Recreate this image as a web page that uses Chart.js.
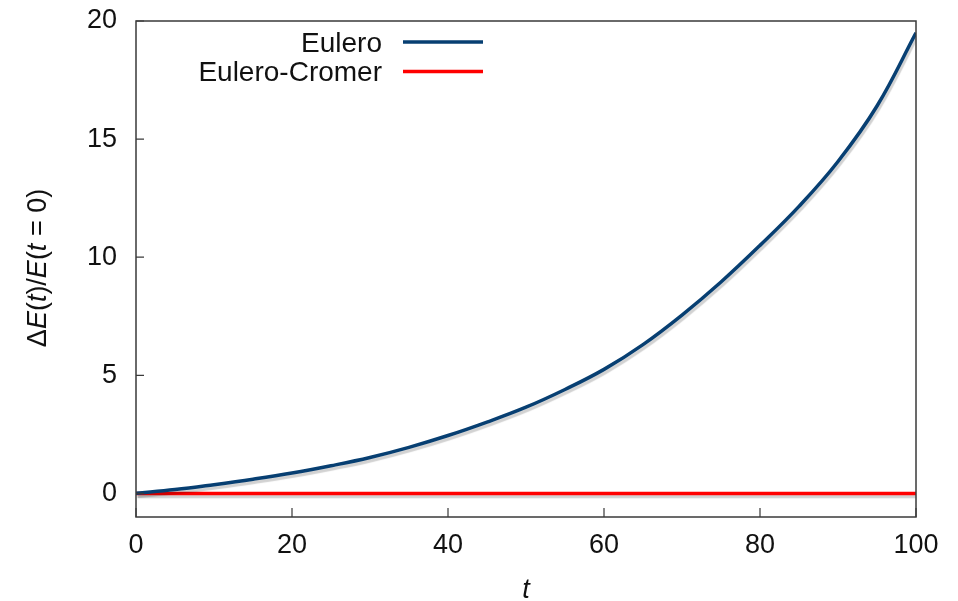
<!DOCTYPE html>
<html>
<head>
<meta charset="utf-8">
<script src="https://cdn.jsdelivr.net/npm/chart.js@4.4.1/dist/chart.umd.min.js"></script>
<style>
  html, body { margin: 0; padding: 0; background: #ffffff; }
  #wrap { width: 958px; height: 601px; position: relative; }
</style>
</head>
<body>
<div id="wrap"><canvas id="c" width="958" height="601"></canvas></div>
<script>
// Time samples and relative energy drift for the two integrators
const times = [0, 5, 10, 15, 20, 25, 30, 35, 40, 45, 50, 55, 60, 65, 70, 75, 80, 85, 90, 95, 100];
const euleroDrift = [0, 0.16, 0.37, 0.60, 0.86, 1.17, 1.52, 1.95, 2.45, 3.02, 3.65, 4.40, 5.25, 6.30, 7.55, 8.95, 10.50, 12.15, 14.05, 16.40, 19.50];
const cromerDrift = [0, 0, 0, 0, 0, 0, 0, 0, 0, 0, 0, 0, 0, 0, 0, 0, 0, 0, 0, 0, 0];
const seriesLabels = ['Eulero', 'Eulero-Cromer'];
const xTickValues = [0, 20, 40, 60, 80, 100];
const yTickValues = [0, 5, 10, 15, 20];

const FONT = '"Liberation Sans", Arial, Helvetica, sans-serif';
const TEXT = '#111111';
const FRAME = '#3a3a3a';

// Soft gray shadow under the curves
const shadowPlugin = {
  id: 'shadow',
  beforeDatasetsDraw(chart) {
    const ctx = chart.ctx;
    ctx.save();
    ctx.shadowColor = 'rgba(0,0,0,0.18)';
    ctx.shadowOffsetX = 1.5;
    ctx.shadowOffsetY = 3;
    ctx.shadowBlur = 1;
  },
  afterDatasetsDraw(chart) {
    chart.ctx.restore();
  }
};

// Box frame with inward ticks on the left and bottom sides
const framePlugin = {
  id: 'frame',
  afterDraw(chart) {
    const { ctx, chartArea: a, scales } = chart;
    ctx.save();
    ctx.strokeStyle = FRAME;
    ctx.lineWidth = 1.5;
    ctx.strokeRect(a.left, a.top, a.right - a.left, a.bottom - a.top);
    ctx.lineWidth = 1.2;
    ctx.beginPath();
    yTickValues.forEach(v => {
      const y = scales.y.getPixelForValue(v);
      ctx.moveTo(a.left, y);
      ctx.lineTo(a.left + 8, y);
    });
    xTickValues.forEach(v => {
      const x = scales.x.getPixelForValue(v);
      ctx.moveTo(x, a.bottom);
      ctx.lineTo(x, a.bottom - 9);
    });
    ctx.stroke();

    // axis titles
    ctx.fillStyle = TEXT;
    ctx.textBaseline = 'alphabetic';
    ctx.font = 'italic 27px ' + FONT;
    ctx.textAlign = 'center';
    ctx.fillText('t', (a.left + a.right) / 2, 598);

    // y title with italic symbols, drawn rotated
    const parts = [
      ['\u0394', false], ['E', true], ['(', false], ['t', true], [')/', false],
      ['E', true], ['(', false], ['t', true], [' = 0)', false]
    ];
    const fontFor = it => (it ? 'italic ' : '') + '27px ' + FONT;
    let total = 0;
    parts.forEach(p => { ctx.font = fontFor(p[1]); total += ctx.measureText(p[0]).width; });
    ctx.translate(46, 268);
    ctx.rotate(-Math.PI / 2);
    ctx.textAlign = 'left';
    let x = -total / 2;
    parts.forEach(p => {
      ctx.font = fontFor(p[1]);
      ctx.fillText(p[0], x, 0);
      x += ctx.measureText(p[0]).width;
    });
    ctx.restore();
  }
};

// Legend in the upper part: right-aligned label followed by a line sample
const keyPlugin = {
  id: 'key',
  afterDraw(chart) {
    const ctx = chart.ctx;
    ctx.save();
    ctx.font = '28px ' + FONT;
    ctx.textAlign = 'right';
    ctx.textBaseline = 'middle';
    chart.data.datasets.forEach((ds, i) => {
      const y = 43 + i * 29.5;
      ctx.fillStyle = TEXT;
      ctx.fillText(ds.label, 382, y + 1);
      ctx.strokeStyle = ds.borderColor;
      ctx.lineWidth = ds.borderWidth;
      ctx.beginPath();
      ctx.moveTo(403, y - 1);
      ctx.lineTo(483, y - 1);
      ctx.stroke();
    });
    ctx.restore();
  }
};

// Keep the plot box at fixed margins regardless of tick label overhang
function noOverhang(s) {
  s.paddingTop = 0;
  s.paddingBottom = 0;
  s.paddingLeft = 0;
  s.paddingRight = 0;
}

new Chart(document.getElementById('c'), {
  type: 'line',
  data: {
    datasets: [
      {
        label: seriesLabels[0],
        data: times.map((t, i) => ({ x: t, y: euleroDrift[i] })),
        borderColor: '#073f72',
        borderWidth: 3.5,
        pointRadius: 0,
        tension: 0.4,
        fill: false
      },
      {
        label: seriesLabels[1],
        data: times.map((t, i) => ({ x: t, y: cromerDrift[i] })),
        borderColor: '#ff0000',
        borderWidth: 3.5,
        pointRadius: 0,
        fill: false
      }
    ]
  },
  options: {
    responsive: false,
    animation: false,
    devicePixelRatio: 1,
    layout: { padding: { top: 21, right: 42, left: 0, bottom: 0 } },
    plugins: {
      legend: { display: false },
      tooltip: { enabled: false }
    },
    scales: {
      x: {
        type: 'linear',
        min: 0,
        max: 100,
        afterFit(s) { s.height = 84; noOverhang(s); },
        afterBuildTicks(s) { s.ticks = xTickValues.map(v => ({ value: v })); },
        grid: { display: false, drawTicks: false },
        border: { display: false },
        ticks: {
          padding: 12,
          maxRotation: 0,
          color: TEXT,
          font: { family: FONT, size: 27 }
        }
      },
      y: {
        type: 'linear',
        min: -1,
        max: 20,
        afterFit(s) { s.width = 136; noOverhang(s); },
        afterBuildTicks(s) { s.ticks = yTickValues.map(v => ({ value: v })); },
        grid: { display: false, drawTicks: false },
        border: { display: false },
        ticks: {
          padding: 19,
          color: TEXT,
          font: { family: FONT, size: 27 }
        }
      }
    }
  },
  plugins: [shadowPlugin, framePlugin, keyPlugin]
});
</script>
</body>
</html>
